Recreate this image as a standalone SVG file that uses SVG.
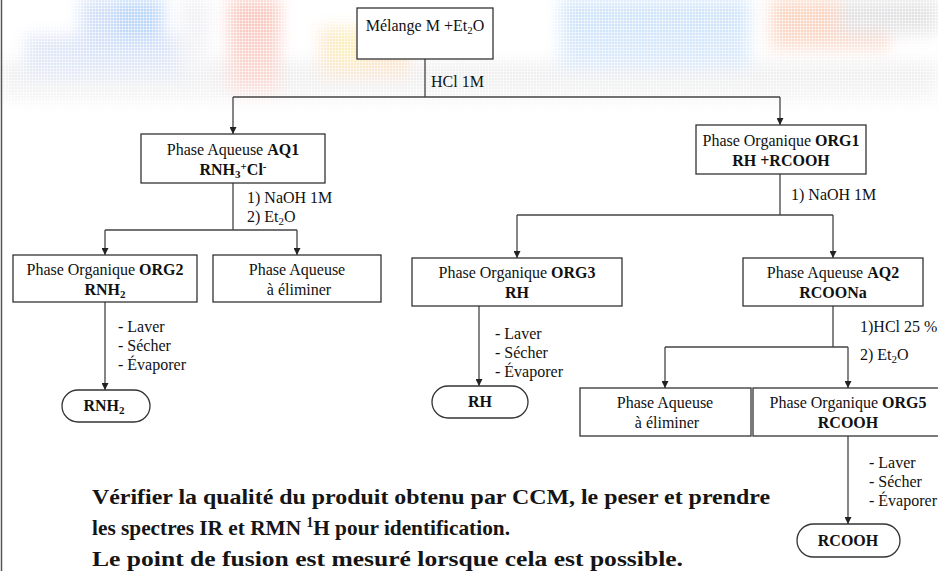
<svg xmlns="http://www.w3.org/2000/svg" width="938" height="571" viewBox="0 0 938 571">
<style>
.box{fill:#fff;stroke:#333;stroke-width:1.3}
.pill{fill:#fff;stroke:#333;stroke-width:1.3}
.t{font-family:"Liberation Serif",Tinos,"Times New Roman","DejaVu Serif",serif;font-size:16px;fill:#111}
.c{text-anchor:middle}
.b{font-weight:bold}
.ln{fill:none;stroke:#444;stroke-width:1.3}
.big{font-family:"Liberation Serif",Tinos,"Times New Roman","DejaVu Serif",serif;font-size:22px;font-weight:bold;fill:#151515}
.sub{font-size:11px}
</style>
<defs>
<marker id="ar" viewBox="0 0 10 10" refX="10" refY="5" markerWidth="7" markerHeight="7" markerUnits="userSpaceOnUse" orient="auto">
<path d="M0,0 L10,5 L0,10 z" fill="#222"/>
</marker>
<linearGradient id="fade" x1="0" y1="0" x2="0" y2="1">
<stop offset="0" stop-color="#fff" stop-opacity="1"/>
<stop offset="0.55" stop-color="#fff" stop-opacity="0.65"/>
<stop offset="1" stop-color="#fff" stop-opacity="0"/>
</linearGradient>
<mask id="m" maskUnits="userSpaceOnUse" x="0" y="0" width="938" height="140">
<rect x="0" y="0" width="938" height="140" fill="url(#fade)"/>
</mask>
<filter id="bl" x="-20%" y="-20%" width="140%" height="140%"><feGaussianBlur stdDeviation="8"/></filter>
<pattern id="dots" width="3" height="3" patternUnits="userSpaceOnUse">
<rect x="2" y="0" width="1" height="3" fill="#fff" fill-opacity="0.5"/>
<rect x="0" y="2" width="3" height="1" fill="#fff" fill-opacity="0.5"/>
</pattern>
</defs>
<rect width="938" height="571" fill="#fff"/>
<g id="background" mask="url(#m)">
<g filter="url(#bl)" opacity="0.6">
<rect x="0" y="62" width="938" height="40" fill="#d6d6d8"/>
<rect x="25" y="35" width="160" height="45" fill="#b9c8ea"/>
<rect x="80" y="0" width="85" height="60" fill="#a9c2f0"/>
<rect x="115" y="0" width="45" height="40" fill="#7fb2f2"/>
<rect x="228" y="0" width="52" height="95" fill="#f39a8a"/>
<rect x="180" y="0" width="30" height="70" fill="#e2e2ea"/>
<rect x="320" y="28" width="90" height="50" fill="#f6c38a"/>
<rect x="330" y="30" width="40" height="35" fill="#f7dd7a"/>
<rect x="560" y="0" width="190" height="70" fill="#a9cdf5"/>
<rect x="770" y="0" width="120" height="50" fill="#f4b08e"/>
<rect x="840" y="0" width="98" height="35" fill="#c9c9cc"/>
</g>
<rect x="0" y="0" width="938" height="140" fill="url(#dots)"/>
</g>
<line x1="1.5" y1="0" x2="1.5" y2="571" stroke="#555" stroke-width="1.5"/>
<g id="connectors">
<path class="ln" d="M425,59 V97 M233,97 H780"/>
<path class="ln" d="M233,97 V134" marker-end="url(#ar)"/>
<path class="ln" d="M780,97 V125" marker-end="url(#ar)"/>
<path class="ln" d="M233,183 V230 M105,230 H297"/>
<path class="ln" d="M105,230 V255" marker-end="url(#ar)"/>
<path class="ln" d="M297,230 V255" marker-end="url(#ar)"/>
<path class="ln" d="M780,174 V215 M517,215 H833"/>
<path class="ln" d="M517,215 V258" marker-end="url(#ar)"/>
<path class="ln" d="M833,215 V258" marker-end="url(#ar)"/>
<path class="ln" d="M105,302 V390" marker-end="url(#ar)"/>
<path class="ln" d="M479,306 V386" marker-end="url(#ar)"/>
<path class="ln" d="M833,306 V347 M665,347 H848"/>
<path class="ln" d="M665,347 V388" marker-end="url(#ar)"/>
<path class="ln" d="M848,347 V388" marker-end="url(#ar)"/>
<path class="ln" d="M848,436 V524" marker-end="url(#ar)"/>
<text class="t" x="431" y="87">HCl 1M</text>
<text class="t" x="247" y="203">1) NaOH 1M</text>
<text class="t" x="247" y="222">2) Et<tspan class="sub" dy="3">2</tspan><tspan dy="-3">O</tspan></text>
<text class="t" x="791" y="200">1) NaOH 1M</text>
<text class="t" x="118" y="332">- Laver</text>
<text class="t" x="118" y="351">- Sécher</text>
<text class="t" x="118" y="370">- Évaporer</text>
<text class="t" x="495" y="339">- Laver</text>
<text class="t" x="495" y="358">- Sécher</text>
<text class="t" x="495" y="377">- Évaporer</text>
<text class="t" x="860" y="332">1)HCl 25 %</text>
<text class="t" x="860" y="360">2) Et<tspan class="sub" dy="3">2</tspan><tspan dy="-3">O</tspan></text>
<text class="t" x="869" y="468">- Laver</text>
<text class="t" x="869" y="487">- Sécher</text>
<text class="t" x="869" y="506">- Évaporer</text>
</g>
<g id="n_melange">
<rect class="box" x="357" y="8" width="136" height="51"/>
<text class="t c" x="425" y="31">Mélange M +Et<tspan class="sub" dy="3">2</tspan><tspan dy="-3">O</tspan></text>
</g>
<g id="n_aq1">
<rect class="box" x="141" y="134" width="184" height="49"/>
<text class="t c" x="233" y="155">Phase Aqueuse <tspan class="b">AQ1</tspan></text>
<text class="t c b" x="233" y="175">RNH<tspan class="sub" dy="3">3</tspan><tspan class="sub" dy="-8">+</tspan><tspan dy="5">Cl</tspan><tspan class="sub" dy="-5">-</tspan></text>
</g>
<g id="n_org1">
<rect class="box" x="696" y="125" width="170" height="49"/>
<text class="t c" x="781" y="146">Phase Organique <tspan class="b">ORG1</tspan></text>
<text class="t c b" x="781" y="166">RH +RCOOH</text>
</g>
<g id="n_org2">
<rect class="box" x="13" y="255" width="184" height="47"/>
<text class="t c" x="105" y="275">Phase Organique <tspan class="b">ORG2</tspan></text>
<text class="t c b" x="105" y="295">RNH<tspan class="sub" dy="3">2</tspan></text>
</g>
<g id="n_aq_elim1">
<rect class="box" x="213" y="255" width="168" height="47"/>
<text class="t c" x="297" y="275">Phase Aqueuse</text>
<text class="t c" x="299" y="295">à éliminer</text>
</g>
<g id="n_org3">
<rect class="box" x="412" y="258" width="210" height="48"/>
<text class="t c" x="517" y="278">Phase Organique <tspan class="b">ORG3</tspan></text>
<text class="t c b" x="517" y="298">RH</text>
</g>
<g id="n_aq2">
<rect class="box" x="743" y="258" width="180" height="48"/>
<text class="t c" x="833" y="278">Phase Aqueuse <tspan class="b">AQ2</tspan></text>
<text class="t c b" x="833" y="298">RCOONa</text>
</g>
<g id="n_rnh2">
<rect class="pill" x="62" y="390" width="88" height="32" rx="16"/>
<text class="t c b" x="104" y="411">RNH<tspan class="sub" dy="3">2</tspan></text>
</g>
<g id="n_rh">
<rect class="pill" x="432" y="386" width="96" height="32" rx="16"/>
<text class="t c b" x="480" y="407">RH</text>
</g>
<g id="n_aq_elim2">
<rect class="box" x="580" y="388" width="171" height="48"/>
<text class="t c" x="665" y="408">Phase Aqueuse</text>
<text class="t c" x="667" y="428">à éliminer</text>
</g>
<g id="n_org5">
<rect class="box" x="753" y="388" width="190" height="48"/>
<text class="t c" x="848" y="408">Phase Organique <tspan class="b">ORG5</tspan></text>
<text class="t c b" x="848" y="428">RCOOH</text>
</g>
<g id="n_rcooh">
<rect class="pill" x="797" y="524" width="103" height="33" rx="16.5"/>
<text class="t c b" x="848" y="546">RCOOH</text>
</g>
<g id="note">
<text class="big" x="92" y="504" textLength="678" lengthAdjust="spacingAndGlyphs">Vérifier la qualité du produit obtenu par CCM, le peser et prendre</text>
<text class="big" x="92" y="535" textLength="418" lengthAdjust="spacingAndGlyphs">les spectres IR et RMN <tspan font-size="14" dy="-8">1</tspan><tspan dy="8">H pour identification.</tspan></text>
<text class="big" x="92" y="566" textLength="591" lengthAdjust="spacingAndGlyphs">Le point de fusion est mesuré lorsque cela est possible.</text>
</g>
</svg>
